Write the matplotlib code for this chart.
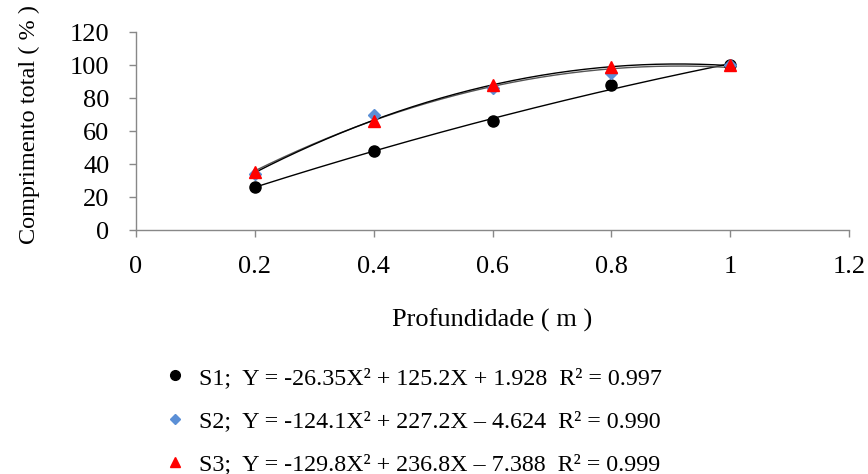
import numpy as np
import matplotlib
matplotlib.use("Agg")
import matplotlib.pyplot as plt
from matplotlib.lines import Line2D

plt.rcParams['font.family'] = ['Liberation Serif', 'DejaVu Serif']

# Depth (m) and relative total root length (%) per treatment
depth = [0.2, 0.4, 0.6, 0.8, 1.0]
s1 = [26, 48, 66, 88, 100]
s2 = [34, 70, 86, 95, 100]
s3 = [35, 66, 88, 99, 100]

# Quadratic fit coefficients (a, b, c) for Y = aX^2 + bX + c
fit_s1 = [-26.35, 125.2, 1.928]
fit_s2 = [-124.1, 227.2, -4.624]
fit_s3 = [-129.8, 236.8, -7.388]

legend_labels = [
    "S1;  Y = -26.35X² + 125.2X + 1.928  R² = 0.997",
    "S2;  Y = -124.1X² + 227.2X – 4.624  R² = 0.990",
    "S3;  Y = -129.8X² + 236.8X – 7.388  R² = 0.999",
]

fig = plt.figure(figsize=(8.68, 4.74), dpi=100)
W, H = 868, 474
ax = fig.add_axes([136 / W, 1 - 230 / H, (849 - 136) / W, (230 - 32) / H])

xs = np.linspace(depth[0], depth[-1], 200)
for coef, col in [(fit_s1, 'black'), (fit_s2, '#555555'), (fit_s3, 'black')]:
    ax.plot(xs, np.polyval(coef, xs), color=col, lw=1.0, zorder=2)

ax.plot(depth, s1, 'o', color='black', ms=8, zorder=3)
ax.plot(depth, s2, 'D', color='#5B8FD6', ms=6, zorder=3)
ax.plot(depth, s3, '^', color='#FF0000', ms=8, zorder=4)

ax.set_xlim(0, 1.2)
ax.set_ylim(0, 120)
ax.set_xticks([0, 0.2, 0.4, 0.6, 0.8, 1.0, 1.2])
ax.set_xticklabels(['0', '0.2', '0.4', '0.6', '0.8', '1', '1.2'])
ax.set_yticks(np.arange(0, 121, 20))

for side in ['top', 'right']:
    ax.spines[side].set_visible(False)
for side in ['left', 'bottom']:
    ax.spines[side].set_color('#888888')
    ax.spines[side].set_linewidth(1.0)
ax.tick_params(axis='both', colors='#888888', labelcolor='black',
               labelsize=19, length=5, width=1.0, direction='out')
ax.tick_params(axis='x', pad=14)
ax.tick_params(axis='y', pad=14)

fig.text(29 / W, 1 - 124 / H, 'Comprimento total ( % )', rotation=90,
         ha='center', va='center', fontsize=17.5)
fig.text(492 / W, 1 - 320 / H, 'Profundidade ( m )', ha='center',
         va='center', fontsize=19)

handles = [
    Line2D([], [], ls='none', marker='o', color='black', ms=7),
    Line2D([], [], ls='none', marker='D', color='#5B8FD6', ms=5),
    Line2D([], [], ls='none', marker='^', color='#FF0000', ms=7),
]
leg = fig.legend(handles, legend_labels, loc='upper left',
                 bbox_to_anchor=(168 / W, 1 - 367 / H), frameon=False,
                 fontsize=17.3, handlelength=0.6, handletextpad=0.7,
                 labelspacing=0.89, borderpad=0, borderaxespad=0)

fig.savefig('out.png', dpi=100)
